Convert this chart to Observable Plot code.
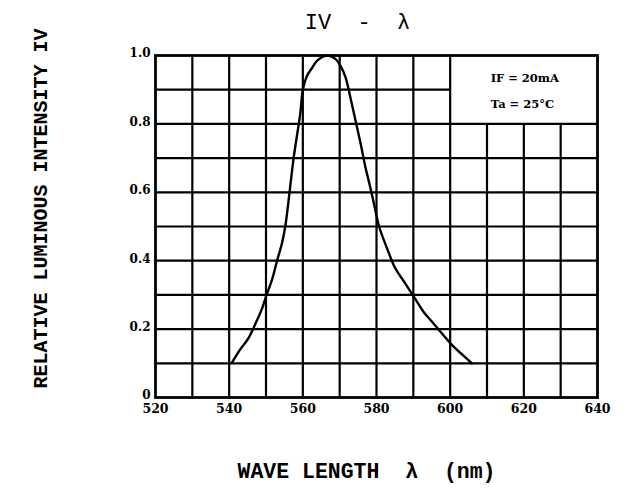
<!DOCTYPE html>
<html><head><meta charset="utf-8">
<script src="https://cdn.jsdelivr.net/npm/d3@7"></script>
<script src="https://cdn.jsdelivr.net/npm/@observablehq/plot@0.6"></script>
<style>
body{margin:0;background:#fff}
svg text{white-space:pre}
</style>
</head><body><div id="chart"></div>
<script>
const wavelength = [540.8, 543.1, 545.2, 547.1, 548.9, 550.0, 551.7, 553.0, 554.4, 555.3, 557.5, 559.3, 560.0, 561.1, 562.4, 563.9, 566.5, 568.8, 570.4, 571.6, 572.9, 574.3, 575.7, 577.0, 578.3, 579.7, 580.7, 582.9, 585.0, 587.9, 590.6, 592.8, 595.6, 600.2, 603.0, 605.9];
const intensity  = [0.103, 0.142, 0.173, 0.215, 0.259, 0.295, 0.347, 0.400, 0.454, 0.505, 0.700, 0.830, 0.900, 0.940, 0.962, 0.985, 1.000, 0.990, 0.966, 0.936, 0.878, 0.810, 0.742, 0.673, 0.615, 0.547, 0.500, 0.435, 0.380, 0.332, 0.287, 0.250, 0.215, 0.157, 0.128, 0.100];
const xTicks = [520, 540, 560, 580, 600, 620, 640];
const yTicks = [0, 0.2, 0.4, 0.6, 0.8, 1.0];
const xGrid = [530, 540, 550, 560, 570, 580, 590, 600, 610, 620, 630];
const yGrid = [0.1, 0.2, 0.3, 0.4, 0.5, 0.6, 0.7, 0.8, 0.9];
const noteLines = ["IF = 20mA", "Ta = 25°C"];
const noteValues = [0.933, 0.857];
const titleText = "IV  -  λ";
const xLabel = "WAVE LENGTH  λ  (nm)";
const yLabel = "RELATIVE LUMINOUS INTENSITY IV";

const curve = wavelength.map((w, i) => ({w, v: intensity[i]}));
const notes = noteLines.map((t, i) => ({t, v: noteValues[i]}));

const mono = "'Liberation Mono', 'DejaVu Sans Mono', monospace";
const serif = "'DejaVu Serif', 'Liberation Serif', serif";

const chart = Plot.plot({
  width: 626,
  height: 492,
  marginLeft: 155,
  marginRight: 29,
  marginTop: 55,
  marginBottom: 95,
  x: {domain: [520, 640]},
  y: {domain: [0, 1]},
  style: {background: "#fff", color: "#000"},
  marks: [
    Plot.ruleX(xGrid, {x: d => d, y1: 0, y2: d => d > 600 ? 0.8 : 1, stroke: "#000", strokeWidth: 2.2}),
    Plot.ruleY(yGrid, {y: d => d, x1: 520, x2: d => d > 0.8 ? 600 : 640, stroke: "#000", strokeWidth: 2.2}),
    Plot.frame({stroke: "#000", strokeWidth: 2.8}),
    Plot.line(curve, {x: "w", y: "v", curve: "catmull-rom", stroke: "#000", strokeWidth: 2.4}),
    Plot.text(notes, {x: 611, y: "v", text: "t", textAnchor: "start", fontSize: 11.5, fontWeight: "bold", fontFamily: serif, fill: "#000"}),
    Plot.axisX(xTicks, {tickSize: 0, tickPadding: 7, fontSize: 12.5, fontWeight: "bold", fontFamily: serif, label: null, tickFormat: d => String(d), fill: "#000"}),
    Plot.axisY(yTicks, {tickSize: 0, tickPadding: 5, dy: -2, fontSize: 12, fontWeight: "bold", fontFamily: serif, label: null, tickFormat: d => d === 0 ? "0" : d.toFixed(1), fill: "#000"}),
    Plot.text([titleText], {frameAnchor: "top", textAnchor: "middle", lineAnchor: "middle", dx: -19, dy: -34, text: d => d, fontSize: 22, fontFamily: mono, fill: "#000"}),
    Plot.text([xLabel], {frameAnchor: "bottom", textAnchor: "middle", lineAnchor: "middle", dx: -10, dy: 74, text: d => d, fontSize: 21.5, fontWeight: "bold", fontFamily: mono, fill: "#000"}),
    Plot.text([yLabel], {frameAnchor: "left", textAnchor: "middle", lineAnchor: "middle", dx: -115, dy: -18, rotate: -90, text: d => d, fontSize: 20, fontWeight: "bold", fontFamily: mono, fill: "#000"})
  ]
});
document.getElementById("chart").appendChild(chart);
</script>
</body></html>
